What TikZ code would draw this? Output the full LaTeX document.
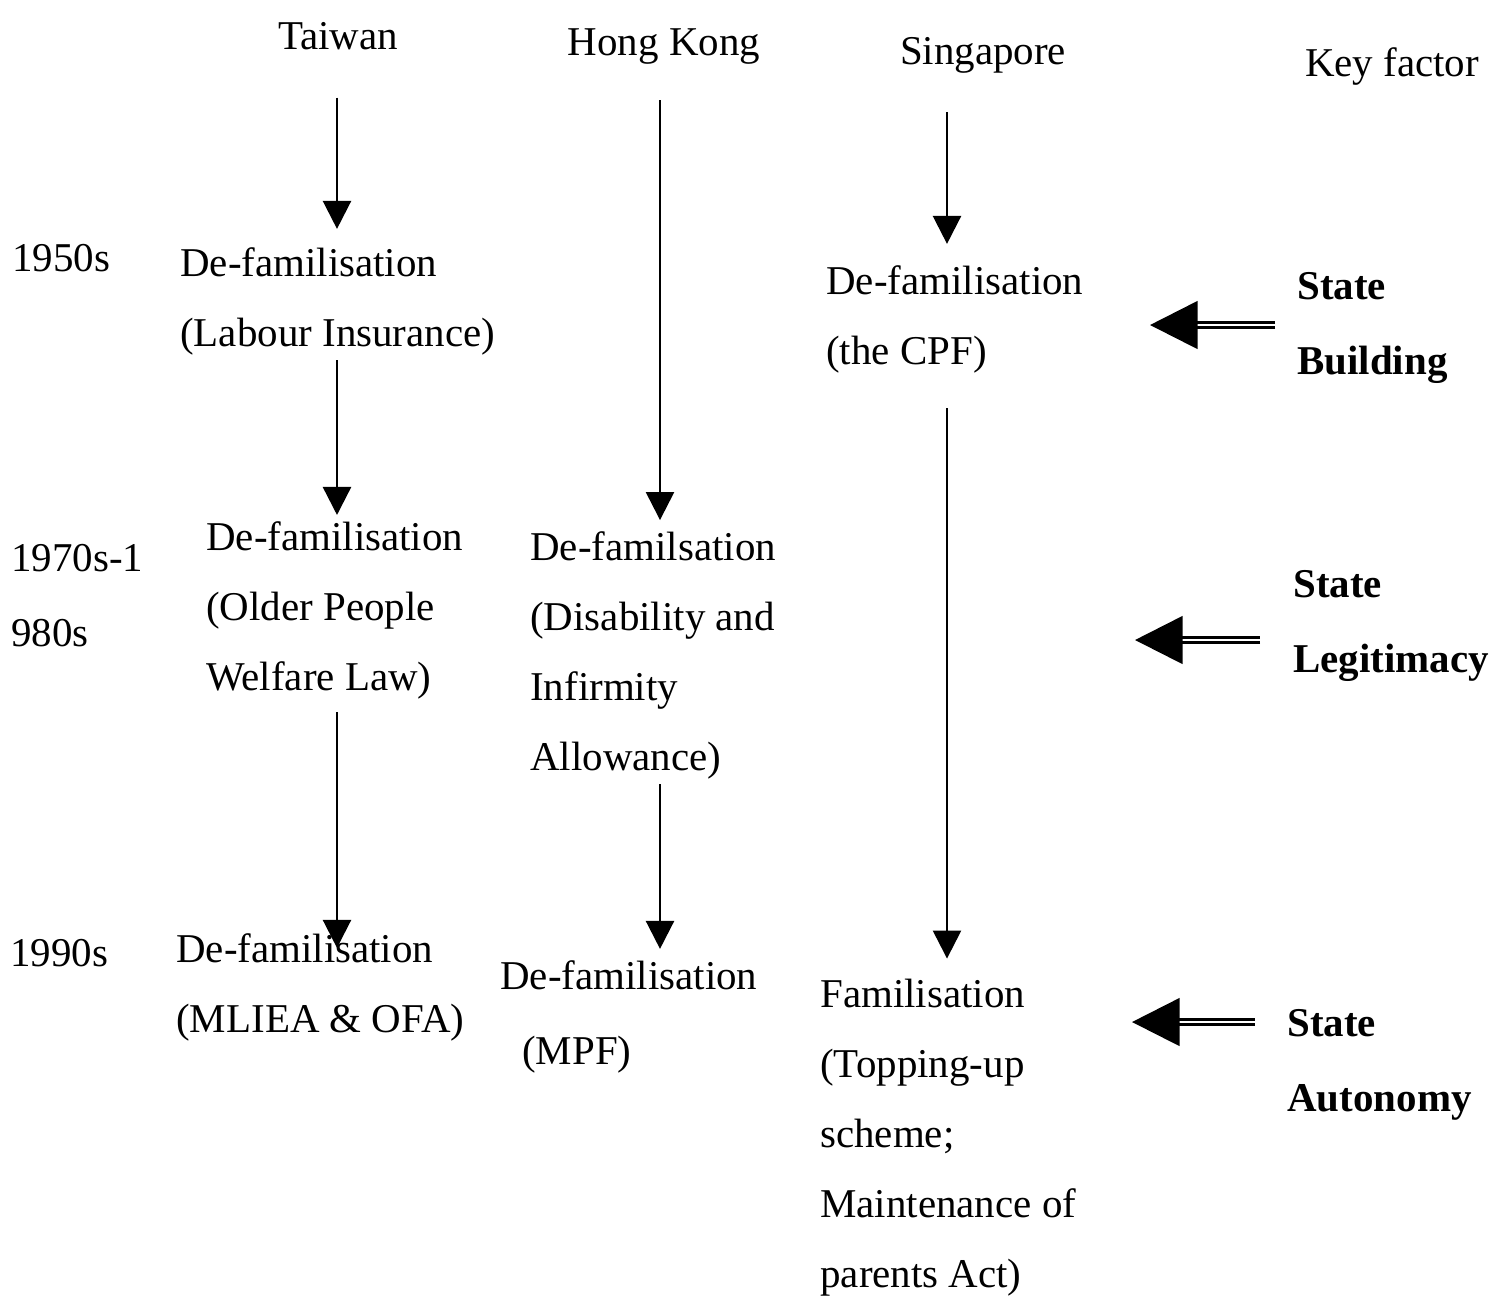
\documentclass[tikz,border=0pt]{standalone}
\usepackage{fontspec}
\setmainfont{Liberation Serif}
\usetikzlibrary{arrows.meta}

\newcommand\txtsize{\fontsize{23.3pt}{39.8pt}\selectfont}

\tikzset{
  lbl/.style={anchor=base west, inner sep=0pt, align=left, font=\txtsize},
  head/.style={anchor=base, inner sep=0pt, font=\txtsize},
  factor/.style={lbl, font=\txtsize\bfseries},
  flow/.style={-{Triangle[length=0.56cm,width=0.56cm]}, line width=1.4pt},
  push/.style={-{Triangle[length=0.95cm,width=0.95cm]}, double, double distance=0.055cm, line width=0.055cm}
}

\begin{document}
\begin{tikzpicture}[x=0.02cm, y=-0.02cm]
    \useasboundingbox (0,0) rectangle (1507,1299);

    % Column headings
    \node[head] (taiwan) at (338,49) {Taiwan};
    \node[head] (hongkong) at (664,55) {Hong Kong};
    \node[head] (singapore) at (983,64) {Singapore};
    \node[head] (keyfactor) at (1392,76) {Key factor};

    % Periods (multi-line nodes sit on their last line)
    \node[lbl] (y1950) at (12,271) {1950s};
    \node[lbl] (y1970) at (11,646) {1970s-1\\[0.1cm]980s};
    \node[lbl] (y1990) at (10,966) {1990s};

    % Taiwan
    \node[lbl] (t1) at (180,346) {De-familisation\\(Labour Insurance)};
    \node[lbl] (t2) at (206,690) {De-familisation\\(Older People\\Welfare Law)};
    \node[lbl] (t3) at (176,1032) {De-familisation\\(MLIEA \& OFA)};

    % Hong Kong
    \node[lbl] (h1) at (530,770) {De-familsation\\(Disability and\\Infirmity\\Allowance)};
    \node[lbl] (h2) at (500,1064) {De-familisation\\[0.1cm]\hspace*{0.44cm}(MPF)};

    % Singapore
    \node[lbl] (s1) at (826,364) {De-familisation\\(the CPF)};
    \node[lbl] (s2) at (820,1287) {Familisation\\(Topping-up\\scheme;\\Maintenance of\\parents Act)};

    % Key factors
    \node[factor] (kf1) at (1297,374) {State\\[0.1cm]Building};
    \node[factor] (kf2) at (1293,672) {State\\[0.1cm]Legitimacy};
    \node[factor] (kf3) at (1287,1111) {State\\[0.1cm]Autonomy};

    % Lines the arrows run on
    \coordinate (twline) at (337,0);
    \coordinate (hkline) at (660,0);
    \coordinate (sgline) at (947,0);
    \coordinate (kfline) at (1140,0);

    % Arrows down the columns
    \draw[flow, shorten <=0.96cm, shorten >=0.36cm] (twline |- taiwan.south) -- (twline |- t1.north);
    \draw[flow, shorten <=0.10cm, shorten >=0.12cm] (twline |- t1.south) -- (twline |- t2.north);
    \draw[flow, shorten <=0.26cm, shorten >=-0.3cm] (twline |- t2.south) -- (twline |- t3.north);
    \draw[flow, shorten <=0.72cm, shorten >=0.22cm] (hkline |- hongkong.south) -- (hkline |- h1.north);
    \draw[flow, shorten <=0.10cm, shorten >=0.22cm] (hkline |- h1.south) -- (hkline |- h2.north);
    \draw[flow, shorten <=0.78cm, shorten >=0.42cm] (sgline |- singapore.south) -- (sgline |- s1.north);
    \draw[flow, shorten <=0.70cm, shorten >=0.40cm] (sgline |- s1.south) -- (sgline |- s2.north);

    % Key factors acting on the states
    \draw[push, shorten <=0.44cm, shorten >=0.2cm] ([yshift=0.98cm]kf1.base west) -- ([yshift=0.98cm]kf1.base west -| kfline);
    \draw[push, shorten <=0.66cm, shorten >=-0.1cm] ([yshift=0.64cm]kf2.base west) -- ([yshift=0.64cm]kf2.base west -| kfline);
    \draw[push, shorten <=0.64cm, shorten >=-0.16cm] ([yshift=1.78cm]kf3.base west) -- ([yshift=1.78cm]kf3.base west -| kfline);

\end{tikzpicture}
\end{document}
